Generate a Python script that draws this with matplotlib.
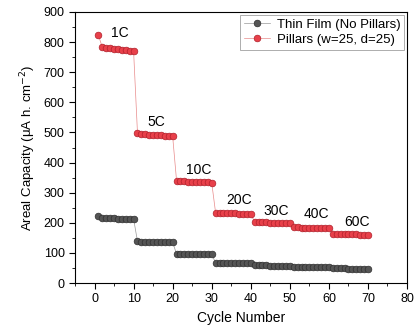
import matplotlib.pyplot as plt
import numpy as np

plt.rcParams['font.family'] = ['Liberation Sans', 'DejaVu Sans']

cycles = list(range(1, 71))
thin_film = [222, 216, 215, 215, 215, 214, 214, 214, 214, 213,
             138, 137, 137, 137, 137, 137, 136, 136, 136, 136,
             96, 96, 96, 96, 95, 95, 95, 95, 95, 95,
             67, 67, 67, 67, 67, 66, 66, 66, 66, 66,
             59, 59, 59, 59, 58, 58, 58, 58, 58, 58,
             54, 54, 54, 54, 54, 53, 53, 53, 53, 53,
             49, 49, 49, 49, 48, 48, 48, 48, 48, 48]
pillars = [822, 783, 781, 779, 778, 776, 775, 773, 772, 770,
           497, 495, 494, 493, 492, 491, 490, 489, 488, 487,
           340, 339, 338, 337, 337, 336, 335, 335, 334, 333,
           233, 233, 232, 232, 231, 231, 230, 230, 229, 229,
           202, 202, 201, 201, 200, 200, 199, 199, 198, 198,
           185, 185, 184, 184, 184, 183, 183, 183, 182, 182,
           163, 163, 163, 162, 162, 162, 162, 161, 161, 161]
rate_labels = ['1C', '5C', '10C', '20C', '30C', '40C', '60C']
label_x = [6.6, 15.8, 26.6, 37.0, 46.6, 56.8, 67.2]
label_y = [830, 535, 375, 276, 239, 229, 203]

fig = plt.figure(figsize=(4.16, 3.3), dpi=100)
ax = fig.add_axes([75/416, 47/330, 332/416, 271/330])

ax.plot(cycles, thin_film, '-o', color='#999999', lw=0.5, ms=4.8,
        mfc='#555555', mec='#2e2e2e', mew=0.5, label='Thin Film (No Pillars)')
ax.plot(cycles, pillars, '-o', color='#e88a8a', lw=0.5, ms=4.8,
        mfc='#e8404a', mec='#b0202a', mew=0.5, label='Pillars (w=25, d=25)')

for t, x, y in zip(rate_labels, label_x, label_y):
    ax.text(x, y, t, ha='center', va='center', fontsize=10)

ax.set_xlim(-5, 79.5)
ax.set_ylim(0, 900)
ax.set_xticks(range(0, 81, 10))
ax.set_yticks(range(0, 901, 100))
ax.set_xticks(range(-5, 80, 10), minor=True)
ax.set_yticks(range(50, 900, 100), minor=True)
ax.tick_params(axis='both', which='major', direction='out', length=4, labelsize=9)
ax.tick_params(axis='both', which='minor', direction='out', length=2)
ax.set_xlabel('Cycle Number', fontsize=10)
ax.set_ylabel(r'Areal Capacity ($\mathregular{\mu}$A h. cm$^{-2}$)', fontsize=9.5)

leg = ax.legend(loc='upper right', fontsize=9.5, frameon=True, fancybox=False,
                edgecolor='#888888', borderpad=0.3, handlelength=2.0,
                handletextpad=0.5, labelspacing=0.2, borderaxespad=0.2)
leg.get_frame().set_linewidth(0.6)

fig.savefig('out.png', dpi=100)
